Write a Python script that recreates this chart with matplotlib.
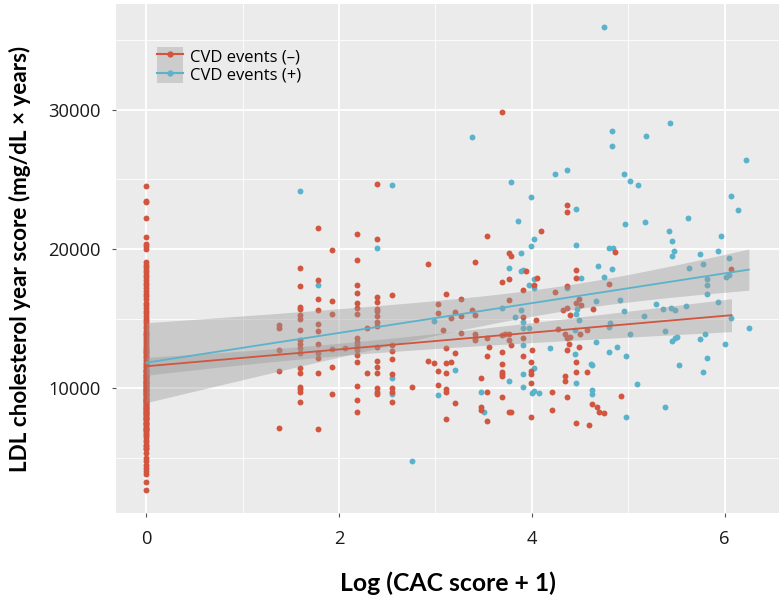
import numpy as np
import matplotlib
matplotlib.use("Agg")
import matplotlib.pyplot as plt
from matplotlib.lines import Line2D
from matplotlib.patches import Patch
from matplotlib.ticker import MultipleLocator

plt.rcParams['font.family'] = ['Open Sans', 'DejaVu Sans']

# ---------------- data ----------------
# CVD events (-) : red group, x = Log(CAC+1) == 0 column
red_zero_y = [24520, 23450, 23360, 22210, 20860, 20360, 20240, 20000,
              19070, 18880, 18710, 18490, 18330, 18120, 17960, 17740, 17580, 17390,
              17170, 16980, 16760, 16590, 16370, 16150, 15940, 15780, 15560, 15390,
              15180, 14990, 14830, 14650, 14470, 14310, 14140, 13980, 13820, 13690,
              13540, 13400, 13260, 13110, 12980, 12840, 12710, 12590, 12460, 12330,
              12210, 12090, 11970, 11840, 11730, 11610, 11500, 11380, 11270, 11160,
              11040, 10930, 10820, 10710, 10590, 10480, 10360, 10250, 10130, 10020,
              9900, 9790, 9670, 9560, 9440, 9320, 9190, 9070, 8940, 8810, 8680, 8540,
              8400, 8260, 8110, 7960, 7810, 7650, 7490, 7330, 7160, 7000,
              6640, 6290, 5930, 5710, 5360, 5000, 4790, 4500, 4290, 4070, 3860, 3290, 2710,
              10940, 10610, 10270, 9980, 9710, 9430, 9120, 8870, 8590, 8330, 8050, 7790,
              7540, 7240, 6980, 6720, 6470, 6150, 5880, 5620, 10460, 10080, 9610, 9250,
              8760, 8220, 7870, 7420, 7080, 6830, 11240, 10790, 9860, 9050, 8470]

# CVD events (-) : red group, x > 0
red_x = [1.38, 1.38, 1.38, 1.38, 1.38,
         1.60, 1.60, 1.60, 1.60, 1.60, 1.60, 1.60, 1.60, 1.60, 1.60, 1.60, 1.60, 1.60, 1.60, 1.60, 1.60, 1.60,
         1.78, 1.78, 1.78, 1.78, 1.78, 1.78, 1.78, 1.78, 1.78, 1.78, 1.78,
         1.93, 1.93, 1.93, 1.93, 1.93, 1.93,
         2.19, 2.19, 2.19, 2.19, 2.19, 2.19, 2.19, 2.19, 2.19, 2.19, 2.19, 2.19, 2.19, 2.19, 2.19, 2.19,
         2.06, 2.29, 2.29,
         2.39, 2.39, 2.39, 2.39, 2.39, 2.39, 2.39, 2.39, 2.39, 2.39, 2.39, 2.39, 2.39, 2.39, 2.39, 2.39,
         2.55, 2.55, 2.55, 2.55, 2.55, 2.55, 2.55, 2.55,
         2.76, 2.92, 2.92, 2.98,
         3.03, 3.03, 3.03, 3.03, 3.08,
         3.11, 3.11, 3.11, 3.11, 3.11, 3.11, 3.11,
         3.16, 3.16, 3.20, 3.20, 3.20, 3.27, 3.27, 3.27, 3.38,
         3.41, 3.41, 3.41, 3.41, 3.41, 3.47, 3.47, 3.47,
         3.53, 3.53, 3.53, 3.53, 3.53, 3.56,
         3.69, 3.69, 3.69, 3.69, 3.69, 3.69, 3.69, 3.69, 3.69,
         3.72, 3.76, 3.76, 3.76, 3.76, 3.76, 3.76, 3.78, 3.78, 3.78,
         3.91, 3.91, 3.91, 3.91, 3.94,
         3.99, 3.99, 3.99, 3.99, 3.99, 4.00, 4.02, 4.04, 4.05, 4.09,
         4.21, 4.21, 4.24, 4.27, 4.32, 4.34, 4.34, 4.34,
         4.36, 4.36, 4.36, 4.36, 4.36, 4.36, 4.36, 4.39, 4.40, 4.40,
         4.46, 4.46, 4.46, 4.46, 4.46, 4.46, 4.49, 4.49, 4.50, 4.51,
         4.57, 4.57, 4.59, 4.62, 4.63, 4.68, 4.70, 4.75, 4.80, 4.86, 4.92, 6.07]
red_y = [14520, 14360, 12740, 11260, 7140,
         18640, 17340, 15830, 15660, 15240, 14950, 14210, 13450, 13160, 12860, 12500, 11430, 11070, 10120, 9950, 9760, 8980,
         21480, 17740, 16430, 15640, 14590, 14120, 13210, 12500, 12140, 11070, 7090,
         19950, 16290, 15360, 12790, 11550, 9620,
         21070, 19170, 17420, 16850, 16100, 15790, 15320, 13610, 13330, 13070, 12740, 12380, 11920, 10130, 9160, 8330,
         12860, 14290, 11120,
         24660, 20690, 16550, 16190, 15710, 15520, 15170, 14760, 14450, 12930, 11950, 11550, 11120, 10000, 9760, 9570,
         16710, 13100, 12690, 12070, 11000, 10000, 9760, 8980,
         10100, 18930, 11980, 11790,
         16050, 15380, 11260, 10240, 14170,
         16790, 12910, 11790, 11070, 9950, 9710, 7790,
         15050, 11860, 15480, 12550, 8930, 16430, 15190, 14000, 15600,
         19050, 15240, 13880, 13640, 13450, 10710, 8690, 8450,
         20930, 13640, 12310, 9760, 7620, 12980,
         29830, 17620, 13810, 12620, 11710, 11190, 11000, 10880, 9400,
         13930, 19710, 17860, 16310, 13930, 13450, 8330, 19500, 13140, 8330,
         17020, 15120, 13640, 12310, 18400,
         11860, 11260, 11000, 10360, 7930, 12740, 17380, 14880, 17930, 21260,
         9760, 8450, 16900, 14240, 15640, 13930, 10900, 10550,
         23160, 22620, 17360, 15790, 13620, 12760, 9360, 13210, 15290, 13690,
         18520, 17930, 16120, 11900, 11190, 7500, 16430, 12950, 13930, 15950,
         14170, 11190, 7330, 8860, 15710, 8640, 8330, 8260, 17500, 19760, 9430, 18590]

# CVD events (+) : blue group at x == 0 (hidden under the red column)
blue_zero_y = [12800, 9200, 12600, 7900, 11300, 13900, 8600, 10400]

# CVD events (+) : blue group, x > 0
blue_x = [1.60, 1.78, 2.39, 2.55, 2.55, 2.55, 2.76, 2.98, 3.03, 3.20, 3.38, 3.47, 3.50,
          3.69, 3.76, 3.76, 3.78, 3.83, 3.86, 3.89, 3.89, 3.89,
          3.91, 3.91, 3.91, 3.91, 3.91, 3.91, 3.97, 3.97, 3.99, 3.99,
          4.02, 4.02, 4.02, 4.02, 4.02, 4.00, 4.07, 4.19, 4.24, 4.36, 4.36,
          4.45, 4.45, 4.46, 4.46, 4.46, 4.46, 4.47, 4.49, 4.51,
          4.61, 4.62, 4.62, 4.62, 4.66, 4.66, 4.69, 4.75, 4.75,
          4.80, 4.80, 4.80, 4.81, 4.83, 4.83, 4.83, 4.84, 4.88, 4.91,
          4.96, 4.96, 4.97, 4.98, 4.98, 5.02, 5.02, 5.09, 5.10, 5.16, 5.17, 5.18,
          5.29, 5.36, 5.38, 5.38, 5.42, 5.43, 5.44, 5.45, 5.45, 5.45, 5.47, 5.48, 5.48,
          5.50, 5.53, 5.60, 5.62, 5.63, 5.74, 5.74, 5.77, 5.77, 5.80,
          5.82, 5.82, 5.82, 5.82, 5.93, 5.93, 5.96, 6.00, 6.01, 6.04, 6.04,
          6.07, 6.07, 6.14, 6.22, 6.25]
blue_y = [24120, 17430, 20090, 24590, 10760, 9590, 4790, 14830, 9520, 11310, 28000, 9760, 8330,
          15790, 18640, 10550, 24790, 15120, 21980, 19690, 18450, 15600,
          18520, 14760, 14330, 13140, 11000, 10070, 17380, 14330, 23690, 20210,
          20690, 17810, 17190, 11480, 9810, 9690, 9640, 12910, 25410, 25640, 17190,
          14170, 12450, 22840, 20290, 15360, 10360, 15710, 14880, 17930,
          11740, 11670, 9880, 9590, 16290, 13330, 18760, 35910, 17980,
          20090, 14400, 12620, 14710, 28450, 27360, 18570, 20090, 12950, 16360,
          25410, 15520, 21790, 12310, 7930, 24860, 13930, 10290, 24620, 15190, 21930, 28120,
          16020, 15690, 14140, 8640, 21260, 29050, 15790, 20550, 19520, 13410, 19830, 15640, 13620,
          13690, 11670, 15910, 22240, 18640, 19640, 13570, 18950, 11190, 13930,
          17810, 17380, 16740, 12190, 19830, 16190, 20950, 13210, 17980, 19380, 18140,
          23760, 15050, 22790, 26360, 14340]

labels = ["CVD events (\u2013)", "CVD events (+)"]
colors = ["#D1553F", "#5BB3CB"]

x_ticks = [0, 2, 4, 6]
y_ticks = [10000, 20000, 30000]

# ---------------- build ----------------
rx = np.concatenate([np.zeros(len(red_zero_y)), np.array(red_x, float)])
ry = np.concatenate([np.array(red_zero_y, float), np.array(red_y, float)])
bx = np.concatenate([np.zeros(len(blue_zero_y)), np.array(blue_x, float)])
by = np.concatenate([np.array(blue_zero_y, float), np.array(blue_y, float)])

fig = plt.figure(figsize=(7.8, 6.09), dpi=100)
ax = fig.add_axes([0.1487, 0.1576, 0.8500, 0.8358])
ax.set_facecolor("#EBEBEB")
for s in ax.spines.values():
    s.set_visible(False)

ax.xaxis.set_major_locator(MultipleLocator(2))
ax.xaxis.set_minor_locator(MultipleLocator(1))
ax.yaxis.set_major_locator(MultipleLocator(10000))
ax.yaxis.set_minor_locator(MultipleLocator(5000))
ax.grid(which="major", color="white", lw=1.3)
ax.grid(which="minor", color="white", lw=0.6)
ax.set_axisbelow(True)

ax.scatter(bx, by, s=18, color=colors[1], lw=0, zorder=2)
ax.scatter(rx, ry, s=18, color=colors[0], lw=0, zorder=2.1)


def ols_band(x, y, n_pts=80):
    n = len(x)
    xm = x.mean()
    sxx = ((x - xm) ** 2).sum()
    b = ((x - xm) * (y - y.mean())).sum() / sxx
    a = y.mean() - b * xm
    resid = y - (a + b * x)
    s = np.sqrt((resid ** 2).sum() / (n - 2))
    xs = np.linspace(x.min(), x.max(), n_pts)
    fit = a + b * xs
    se = s * np.sqrt(1.0 / n + (xs - xm) ** 2 / sxx)
    t = 1.97
    return xs, fit, fit - t * se, fit + t * se


for x, y, c in [(rx, ry, colors[0]), (bx, by, colors[1])]:
    xs, fit, lo, hi = ols_band(x, y)
    ax.fill_between(xs, lo, hi, color="#999999", alpha=0.4, lw=0, zorder=3)
    ax.plot(xs, fit, color=c, lw=1.3, zorder=4)

ax.set_xlim(-0.3125, 6.5625)
ax.set_ylim(1050, 37570)
ax.set_xticks(x_ticks)
ax.set_yticks(y_ticks)
ax.tick_params(which="major", length=3.2, color="#555555", labelsize=13.2,
               labelcolor="#1a1a1a", width=0.8)
ax.tick_params(which="minor", length=0)
ax.tick_params(axis="x", pad=9)
ax.tick_params(axis="y", pad=8)

ax.set_xlabel("Log (CAC score + 1)", fontsize=17.8, fontweight="bold", labelpad=17,
              family=["Lato", "DejaVu Sans"])
ax.set_ylabel("LDL cholesterol year score (mg/dL \u00d7 years)", fontsize=16.2,
              fontweight="bold", labelpad=12, family=["Lato", "DejaVu Sans"])

handles = [(Patch(facecolor="#CCCCCC", edgecolor="none"),
            Line2D([], [], color=c, lw=1.5, marker="o", markersize=3.5)) for c in colors]
leg = ax.legend(handles, labels, loc="upper left", bbox_to_anchor=(0.062, 0.9155),
                frameon=False, fontsize=12, borderpad=0, labelspacing=0.0,
                handlelength=1.56, handleheight=1.26, handletextpad=0.42,
                borderaxespad=0)

fig.savefig("out.png", dpi=100)
